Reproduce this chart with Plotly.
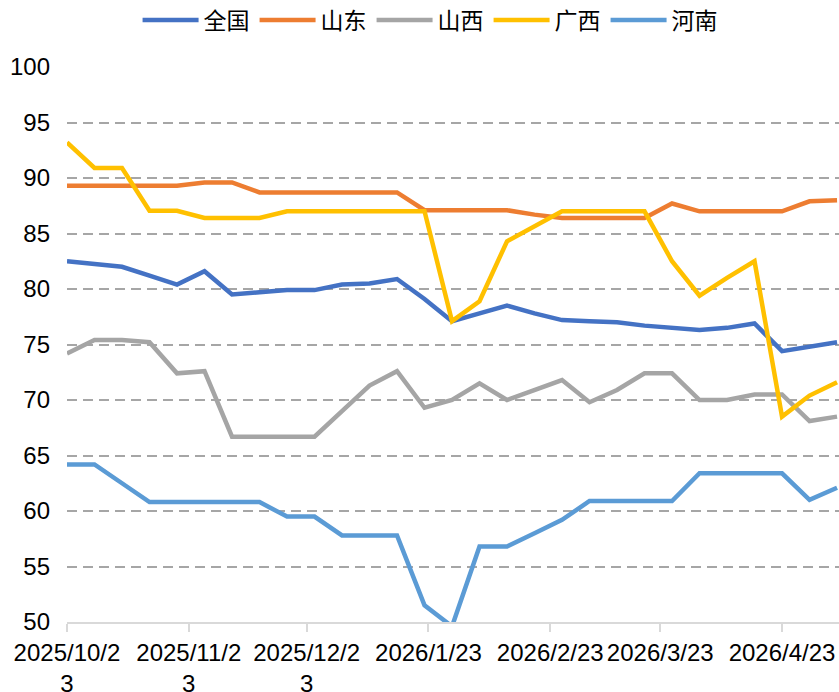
import plotly.graph_objects as go

dates = ["2025-10-23", "2025-10-30", "2025-11-06", "2025-11-13", "2025-11-20", "2025-11-27",
         "2025-12-04", "2025-12-11", "2025-12-18", "2025-12-25", "2026-01-01", "2026-01-08",
         "2026-01-15", "2026-01-22", "2026-01-29", "2026-02-05", "2026-02-12", "2026-02-19",
         "2026-02-26", "2026-03-05", "2026-03-12", "2026-03-19", "2026-03-26", "2026-04-02",
         "2026-04-09", "2026-04-16", "2026-04-23", "2026-04-30", "2026-05-07"]

quanguo = [82.5, 82.2, 82.0, 81.2, 80.4, 81.6, 79.5, 79.7, 79.9, 79.9, 80.4, 80.5, 80.9, 79.1,
           77.1, 77.8, 78.5, 77.8, 77.2, 77.1, 77.0, 76.7, 76.5, 76.3, 76.5, 76.9, 74.4, 74.8, 75.2]
shandong = [89.3, 89.3, 89.3, 89.3, 89.3, 89.6, 89.6, 88.7, 88.7, 88.7, 88.7, 88.7, 88.7, 87.1,
            87.1, 87.1, 87.1, 86.7, 86.4, 86.4, 86.4, 86.4, 87.7, 87.0, 87.0, 87.0, 87.0, 87.9, 88.0]
shanxi = [74.2, 75.4, 75.4, 75.2, 72.4, 72.6, 66.7, 66.7, 66.7, 66.7, 69.0, 71.3, 72.6, 69.3,
          70.0, 71.5, 70.0, 70.9, 71.8, 69.8, 70.9, 72.4, 72.4, 70.0, 70.0, 70.5, 70.5, 68.1, 68.5]
guangxi = [93.2, 90.9, 90.9, 87.05, 87.05, 86.4, 86.4, 86.4, 87.0, 87.0, 87.0, 87.0, 87.0, 87.0,
           77.1, 78.9, 84.3, 85.6, 87.0, 87.0, 87.0, 87.0, 82.5, 79.4, 81.0, 82.5, 68.5, 70.4, 71.6]
henan = [64.2, 64.2, 62.5, 60.8, 60.8, 60.8, 60.8, 60.8, 59.5, 59.5, 57.8, 57.8, 57.8, 51.5,
         49.6, 56.8, 56.8, 58.0, 59.2, 60.9, 60.9, 60.9, 60.9, 63.4, 63.4, 63.4, 63.4, 61.0, 62.1]

series_names = ["全国", "山东", "山西", "广西", "河南"]
series_values = [quanguo, shandong, shanxi, guangxi, henan]
colors = ["#4472C4", "#ED7D31", "#A5A5A5", "#FFC000", "#5B9BD5"]

tick_vals = ["2025-10-23", "2025-11-23", "2025-12-23", "2026-01-23", "2026-02-23",
             "2026-03-23", "2026-04-23"]
tick_text = ["2025/10/2<br>3", "2025/11/2<br>3", "2025/12/2<br>3", "2026/1/23", "2026/2/23",
             "2026/3/23", "2026/4/23"]

fig = go.Figure()
for name, vals, col in zip(series_names, series_values, colors):
    fig.add_trace(go.Scatter(x=dates, y=vals, name=name, mode="lines",
                             line=dict(color=col, width=4.5)))

font_fam = "Liberation Sans, Arial, Noto Sans CJK SC"
fig.update_layout(
    width=839, height=692,
    margin=dict(l=67, r=0, t=67, b=70, autoexpand=False),
    plot_bgcolor="white", paper_bgcolor="white",
    font=dict(family=font_fam, size=24, color="#000000"),
    showlegend=True,
    legend=dict(orientation="h", xref="container", yref="container",
                x=0.5126, xanchor="center", y=0.971, yanchor="middle",
                font=dict(family="Noto Sans CJK SC, Liberation Sans", size=23, color="#000000"),
                itemwidth=56, tracegroupgap=0, bgcolor="rgba(0,0,0,0)"),
    xaxis=dict(type="date", range=["2025-10-23", "2026-05-07 12:00"],
               tickvals=tick_vals, ticktext=tick_text, automargin=False,
               showgrid=False, showline=True, linecolor="#D9D9D9", linewidth=1.5,
               ticks="outside", ticklen=8, tickcolor="#D9D9D9", tickwidth=1.5,
               tickfont=dict(size=24, color="#000000"), zeroline=False),
    yaxis=dict(range=[50, 100], dtick=5, tick0=50, automargin=False,
               showgrid=True, gridcolor="#A6A6A6", gridwidth=1.5, griddash="10px,6px",
               showline=False, zeroline=False, ticks="", ticklabelstandoff=16,
               tickfont=dict(size=24, color="#000000")),
)

fig.write_html("out.html",
               config={"displayModeBar": False},
               post_script="document.body.style.margin='0';document.body.style.overflow='hidden';")
